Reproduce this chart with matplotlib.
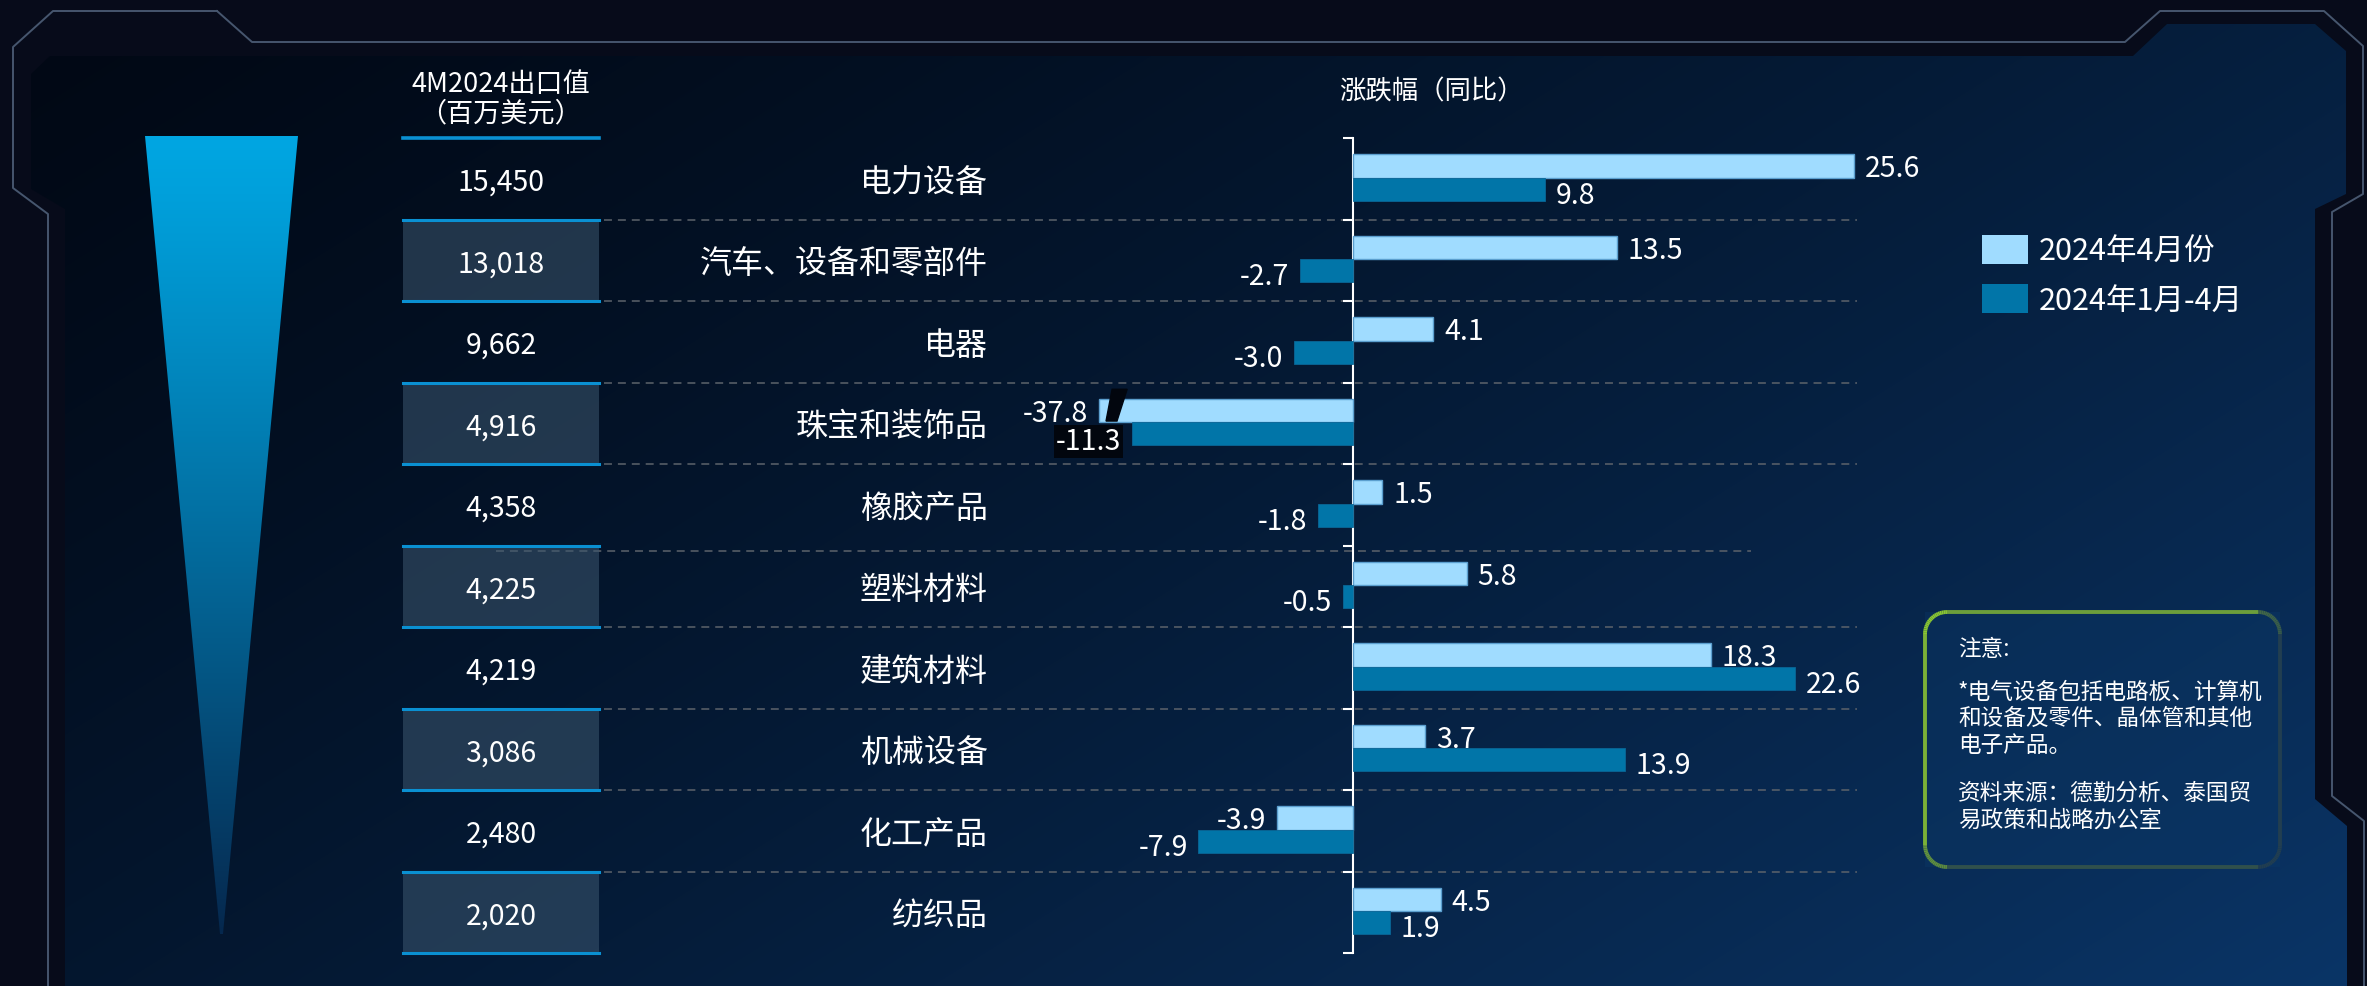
import numpy as np
import matplotlib
matplotlib.use('Agg')
import matplotlib.pyplot as plt
from matplotlib import transforms
from matplotlib.patches import Polygon, Rectangle
from matplotlib.collections import LineCollection

plt.rcParams['font.family'] = ['Noto Sans CJK SC', 'DejaVu Sans']

# data
categories = ['电力设备', '汽车、设备和零部件', '电器', '珠宝和装饰品', '橡胶产品',
              '塑料材料', '建筑材料', '机械设备', '化工产品', '纺织品']
export_value = ['15,450', '13,018', '9,662', '4,916', '4,358',
                '4,225', '4,219', '3,086', '2,480', '2,020']
yoy_apr = [25.6, 13.5, 4.1, -37.8, 1.5, 5.8, 18.3, 3.7, -3.9, 4.5]
yoy_jan_apr = [9.8, -2.7, -3.0, -11.3, -1.8, -0.5, 22.6, 13.9, -7.9, 1.9]
series_names = ['2024年4月份', '2024年1月-4月']
note_lines = ['注意:', '*电气设备包括电路板、计算机', '和设备及零件、晶体管和其他',
              '电子产品。', '资料来源：德勤分析、泰国贸', '易政策和战略办公室']

# axis break for the very long bar
clip_at = -13.0

W, H = 2367, 987
fig = plt.figure(figsize=(W / 100, H / 100), dpi=100)
fig.patch.set_facecolor('#070b1a')

# background layer in pixel coords
bg = fig.add_axes([0, 0, 1, 1])
bg.set_xlim(0, W)
bg.set_ylim(H, 0)
bg.axis('off')
bg.set_autoscale_on(False)

panel = Polygon([(50, 57), (2133, 57), (2167, 25), (2315, 25), (2346, 52), (2346, 195),
                 (2315, 210), (2315, 800), (2347, 827), (2347, H), (65, H), (65, 210),
                 (31, 190), (31, 75)], closed=True, fill=False, lw=0)
bg.add_patch(panel)
ys, xs = np.mgrid[0:H:2, 0:W:2]
t = np.clip(0.6 * xs / W + 0.4 * ys / H, 0, 1) ** 1.3
c0 = np.array([1, 8, 20]) / 255
c1 = np.array([10, 53, 103]) / 255
img = c0 + (c1 - c0) * t[..., None]
im = bg.imshow(img, extent=(0, W, H, 0), origin='upper', interpolation='bilinear',
               aspect='auto', zorder=0)
im.set_clip_path(panel)

# frame lines
frame_l = [(217, 12), (53, 12), (13, 48), (13, 189), (48, 215), (48, H)]
frame_r = [(217, 12), (252, 43), (2125, 43), (2160, 12), (2324, 12), (2363, 47),
           (2363, 195), (2332, 213), (2332, 797), (2364, 822), (2364, H)]
for fr in (frame_l, frame_r):
    bg.plot([p[0] for p in fr], [p[1] for p in fr], color='#46566e', lw=1.4, zorder=1)

# funnel
funnel = Polygon([(145, 137), (298, 137), (223, 935), (220, 935)], closed=True,
                 fill=False, lw=0)
bg.add_patch(funnel)
fy = np.linspace(0, 1, 200)[:, None, None]
f0 = np.array([0, 166, 226]) / 255
f1 = np.array([6, 40, 78]) / 255
fimg = np.repeat(f0 + (f1 - f0) * fy ** 1.15, 2, axis=1)
fim = bg.imshow(fimg, extent=(145, 298, 935, 137), origin='upper', aspect='auto',
                interpolation='bilinear', zorder=1)
fim.set_clip_path(funnel)

# bar axes
x0_px, x1_px, zero_px, px_per_unit = 990, 1900, 1353, 19.57
ax = fig.add_axes([x0_px / W, (H - 954.25) / H, (x1_px - x0_px) / W, 815 / H])
ax.set_xlim((x0_px - zero_px) / px_per_unit, (x1_px - zero_px) / px_per_unit)
ax.set_ylim(9.5, -0.5)
ax.patch.set_alpha(0)

y = np.arange(len(categories))
disp_apr = [max(v, clip_at) for v in yoy_apr]
h = 0.285
b1 = ax.barh(y - 0.16, disp_apr, height=h, color='#a0dcff', edgecolor='#5b9fcf', lw=1.0, zorder=3)
b2 = ax.barh(y + 0.125, yoy_jan_apr, height=h, color='#0175a8', edgecolor='#0a6696', lw=0.6, zorder=3)

for s in ['top', 'right', 'bottom']:
    ax.spines[s].set_visible(False)
ax.spines['left'].set_position(('data', 0))
ax.spines['left'].set_color('white')
ax.spines['left'].set_linewidth(1.5)
ax.set_xticks([])
ax.set_yticks(np.arange(-0.5, len(categories), 1))
ax.set_yticklabels([])
ax.tick_params(axis='y', direction='out', length=7, width=1.5, color='white')

lab_fs = 20.5
off = 0.55
for i in range(len(categories)):
    va, vb = yoy_apr[i], yoy_jan_apr[i]
    da = disp_apr[i]
    broken = va < clip_at
    ya, yb = i - 0.13, i + 0.195
    if va >= 0:
        ax.text(da + off, ya, f'{va:.1f}', ha='left', va='center', color='white', fontsize=lab_fs, zorder=5)
    else:
        ax.text(da - off, ya, f'{va:.1f}', ha='right', va='center', color='white', fontsize=lab_fs, zorder=5)
    if vb >= 0:
        ax.text(vb + off, yb, f'{vb:.1f}', ha='left', va='center', color='white', fontsize=lab_fs, zorder=5)
    else:
        kw = {}
        if broken:
            kw = dict(bbox=dict(facecolor='#02060e', edgecolor='none', pad=1))
            yb = i + 0.22
        ax.text(vb - off, yb, f'{vb:.1f}', ha='right', va='center', color='white', fontsize=lab_fs, zorder=6, **kw)
    if broken:
        bx = clip_at + 0.94
        ax.fill([bx - 0.56, bx, bx + 0.52, bx - 0.25], [i - 0.03, i - 0.03, i - 0.42, i - 0.42],
                color='#02060e', zorder=4, clip_on=False)

# row decorations (x in pixels, y in bar data)
trans = transforms.blended_transform_factory(bg.transData, ax.transData)
for k in range(len(categories) - 1):
    b = k + 0.5
    xa, xb = 604, 1857
    if k == 4:
        b, xa, xb = b + 0.07, 496, 1751
    bg.plot([xa, xb], [b, b], transform=trans, color='#5d636b', lw=1.1,
            linestyle=(0, (5.2, 3.9)), zorder=2)

for i in range(len(categories)):
    if i % 2 == 1:
        bg.add_patch(Rectangle((403, i - 0.5), 196, 1, transform=trans, facecolor='#3c576f',
                               alpha=0.55, edgecolor='none', zorder=2))
        bg.plot([403, 599], [i - 0.5, i - 0.5], transform=trans, color='#0a90d2', lw=2.2, zorder=3)
        bg.plot([403, 599], [i + 0.5, i + 0.5], transform=trans, color='#0a90d2', lw=2.2, zorder=3)
    bg.text(501, i + 0.035, export_value[i], transform=trans, ha='center', va='center',
            color='white', fontsize=20.5, zorder=4)
    bg.text(988, i + 0.035, categories[i], transform=trans, ha='right', va='center',
            color='white', fontsize=23, zorder=4)
bg.plot([403, 599], [-0.5, -0.5], transform=trans, color='#0a90d2', lw=2.6, zorder=3)

# headers
bg.text(501, 85, '4M2024出口值', ha='center', va='center', color='white', fontsize=19.5, style='italic')
bg.text(501, 114, '（百万美元）', ha='center', va='center', color='white', fontsize=19.5, style='italic')
bg.text(1339, 92, '涨跌幅（同比）', ha='left', va='center', color='white', fontsize=19, style='italic')

# legend
leg = fig.legend(handles=[b1, b2], labels=series_names, loc='upper left',
                 bbox_to_anchor=(1982 / W, 1 - 236 / H), frameon=False, fontsize=22,
                 handlelength=1.5, handleheight=1.1, handletextpad=0.35, labelspacing=0.55,
                 borderpad=0, borderaxespad=0, labelcolor='white')
for hnd in leg.legend_handles:
    hnd.set_edgecolor('none')

# note box with gradient border
bx0, by0, bx1, by1, r = 1925, 613, 2280, 868, 22
bg.add_patch(Rectangle((bx0, by0), bx1 - bx0, by1 - by0, facecolor='#0b3a6a', alpha=0.35,
                       edgecolor='none', zorder=1))
pts = []
for (cx, cy, a0) in [(bx1 - r, by0 + r, -90), (bx1 - r, by1 - r, 0), (bx0 + r, by1 - r, 90), (bx0 + r, by0 + r, 180)]:
    ang = np.radians(np.linspace(a0, a0 + 90, 20))
    pts += list(zip(cx + r * np.cos(ang), cy + r * np.sin(ang)))
pts.append(pts[0])
pts = np.array(pts)
segs = np.stack([pts[:-1], pts[1:]], axis=1)
mid = segs.mean(axis=1)
tt = np.clip(0.8 * (mid[:, 0] - bx0) / (bx1 - bx0) + 0.5 * (mid[:, 1] - by0) / (by1 - by0), 0, 1) ** 1.3
g0 = np.array([140, 200, 50]) / 255
g1 = np.array([34, 62, 80]) / 255
lc = LineCollection(segs, colors=g0 + (g1 - g0) * tt[:, None], linewidths=2.8, zorder=3)
bg.add_collection(lc)
note_y = [650, 692, 718, 745, 793, 820]
for txt, ny in zip(note_lines, note_y):
    bg.text(1958, ny, txt, ha='left', va='center', color='white', fontsize=16.3, style='italic', zorder=4)

fig.savefig('out.png', dpi=100, facecolor=fig.get_facecolor())
